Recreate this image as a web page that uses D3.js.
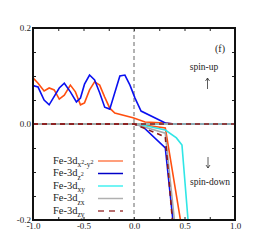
<!DOCTYPE html>
<html>
<head>
<meta charset="utf-8">
<script src="https://cdn.jsdelivr.net/npm/d3@7"></script>
<style>
body{margin:0;background:#fff;}
text{font-family:"Liberation Serif","DejaVu Serif",serif;fill:#222;}
</style>
</head>
<body>
<script>
// spin-up curves [energy, pdos]
var upOrange=[[-1.0,0.096],[-0.95,0.085],[-0.89,0.069],[-0.84,0.075],[-0.79,0.071],[-0.74,0.052],[-0.69,0.060],[-0.63,0.081],[-0.58,0.067],[-0.53,0.040],[-0.49,0.044],[-0.44,0.071],[-0.39,0.088],[-0.34,0.081],[-0.29,0.056],[-0.24,0.033],[-0.19,0.023],[-0.01,0.013],[0.11,0.004],[0.31,0.002],[0.4,0],[1.0,0]]
var upBlue=[[-1.0,0.080],[-0.95,0.077],[-0.89,0.050],[-0.84,0.040],[-0.74,0.075],[-0.69,0.085],[-0.63,0.067],[-0.57,0.046],[-0.53,0.054],[-0.49,0.083],[-0.44,0.102],[-0.39,0.092],[-0.34,0.065],[-0.29,0.035],[-0.24,0.031],[-0.14,0.100],[-0.09,0.102],[-0.04,0.081],[0.01,0.054],[0.07,0.027],[0.31,0.002],[0.4,0],[1.0,0]]
var upCyan=[[-1.0,0],[1.0,0]]
var upGray=[[-1.0,0],[1.0,0]]
var upRed=[[-1.0,0],[1.0,0]]
// spin-down curves
var dnOrange=[[-1.0,0],[0.0,0],[0.1,-0.002],[0.31,-0.008],[0.46,-0.2],[0.47,-0.22]]
var dnBlue=[[-1.0,0],[0.0,0],[0.08,-0.004],[0.31,-0.05],[0.385,-0.2],[0.39,-0.22]]
var dnCyan=[[-1.0,0],[0.0,0],[0.1,-0.003],[0.31,-0.0125],[0.42,-0.029],[0.475,-0.044],[0.535,-0.2],[0.54,-0.22]]
var dnGray=[[-1.0,0],[0.0,0],[0.31,-0.019],[0.40,-0.2],[0.41,-0.22]]
var dnRed=[[-1.0,0],[0.0,0],[0.31,-0.027],[0.38,-0.2],[0.385,-0.22]]

var xTicks=[-1,-0.75,-0.5,-0.25,0,0.25,0.5,0.75,1]
var yTicks=[-0.2,-0.15,-0.1,-0.05,0,0.05,0.1,0.15,0.2]
var colors=["#ff4f0f","#0a10f0","#30e6e6","#a8a8a8","#8b1a1a"]
var legendCols=["#ff7f50","#0000c8","#45f0f0","#b0b0b0","#a04040"]
///////////////////////////////////////////////////////////////////
var W=266,H=249
var m={left:33,right:235,top:28,bottom:220}
var svg=d3.select("body").append("svg").attr("width",W).attr("height",H)
var x=d3.scaleLinear().domain([-1,1]).range([m.left,m.right])
var y=d3.scaleLinear().domain([-0.2,0.2]).range([m.bottom,m.top])

svg.append("clipPath").attr("id","clip").append("rect")
   .attr("x",m.left).attr("y",m.top).attr("width",m.right-m.left).attr("height",m.bottom-m.top)

var fmt=function(d){
  var s=Math.abs(d).toFixed(1)
  return (d<-1e-9?"-":"")+s
}
var fmtX=function(d){return Math.abs(d*2-Math.round(d*2))<1e-6?fmt(d):""}
var fmtY=function(d){return Math.abs(d*5-Math.round(d*5))<1e-6?fmt(d):""}

var ax=function(g){g.select(".domain").remove();g.selectAll("line").attr("stroke","#222");g.selectAll("text").attr("font-size",9).style("fill","#222")}
svg.append("g").attr("transform","translate(0,"+m.bottom+")")
   .call(d3.axisBottom(x).tickValues(xTicks).tickSize(-3).tickPadding(3).tickFormat(fmtX)).call(ax)
svg.append("g").attr("transform","translate(0,"+m.top+")")
   .call(d3.axisTop(x).tickValues(xTicks).tickSize(-3).tickFormat("")).call(ax)
svg.append("g").attr("transform","translate("+m.left+",0)")
   .call(d3.axisLeft(y).tickValues(yTicks).tickSize(-3).tickPadding(2).tickFormat(fmtY)).call(ax)
svg.append("g").attr("transform","translate("+m.right+",0)")
   .call(d3.axisRight(y).tickValues(yTicks).tickSize(-3).tickFormat("")).call(ax)

// dashed line at Fermi level
svg.append("line").attr("x1",x(0)).attr("x2",x(0)).attr("y1",m.top).attr("y2",m.bottom)
   .attr("stroke","#666").attr("stroke-width",1).attr("stroke-dasharray","4,3")

var line=d3.line().x(function(d){return x(d[0])}).y(function(d){return y(d[1])})
var plot=svg.append("g").attr("clip-path","url(#clip)")
var series=[[upOrange,dnOrange],[upBlue,dnBlue],[upCyan,dnCyan],[upGray,dnGray],[upRed,dnRed]]
series.forEach(function(s,i){
  s.forEach(function(d){
    plot.append("path").attr("d",line(d)).attr("fill","none")
        .attr("stroke",colors[i]).attr("stroke-width",1.6)
        .attr("stroke-dasharray",i==4?"5,4":null)
  })
})

svg.append("rect").attr("x",m.left).attr("y",m.top).attr("width",m.right-m.left).attr("height",m.bottom-m.top)
   .attr("fill","none").attr("stroke","#111").attr("stroke-width",2)

// legend
var leg=[["x","2","-y","2"],["z","2"],["xy"],["zx"],["zy"]]
leg.forEach(function(l,i){
  var ly=161+i*12.5
  var t=svg.append("text").attr("x",53).attr("y",ly+2.5).attr("font-size",10.5)
  t.append("tspan").text("Fe-3d")
  l.forEach(function(p,j){
    t.append("tspan").attr("dy",j==0?3.5:(j%2==1?-3.5:3.5)).attr("font-size",j%2==1?6:7.5).text(p)
  })
  svg.append("line").attr("x1",98).attr("x2",123).attr("y1",ly).attr("y2",ly)
     .attr("stroke",legendCols[i]).attr("stroke-width",1.5)
     .attr("stroke-dasharray",i==4?"6,5":null)
})

svg.append("text").attr("x",220).attr("y",52).attr("font-size",10).attr("text-anchor","middle").text("(f)")
svg.append("text").attr("x",204).attr("y",70).attr("font-size",9.5).attr("text-anchor","middle").text("spin-up")
svg.append("text").attr("x",210).attr("y",185).attr("font-size",9.5).attr("text-anchor","middle").text("spin-down")

// thin arrows
var arrow=function(ax0,y0,y1){
  var dir=y1<y0?1:-1
  svg.append("path").attr("fill","none").attr("stroke","#333").attr("stroke-width",0.8)
     .attr("d","M"+ax0+","+y0+"V"+y1+"M"+(ax0-2)+","+(y1+dir*3)+"L"+ax0+","+y1+"L"+(ax0+2)+","+(y1+dir*3))
}
arrow(207.5,89,78)
arrow(208,157,168)
</script>
</body>
</html>
